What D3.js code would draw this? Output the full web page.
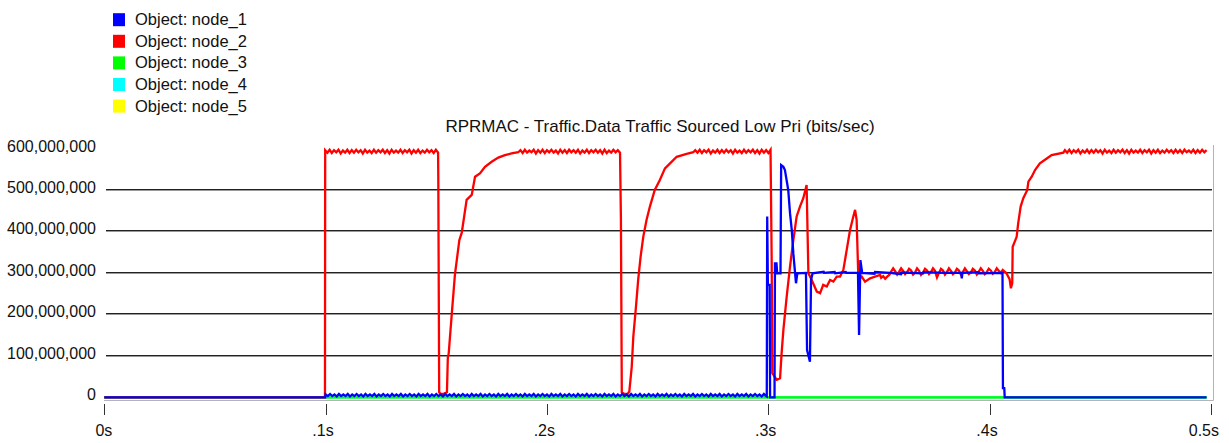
<!DOCTYPE html>
<html lang="en">
<head>
<meta charset="UTF-8">
<script src="https://d3js.org/d3.v7.min.js"></script>
<title>RPRMAC - Traffic.Data Traffic Sourced Low Pri</title>
<style>
  body { margin: 0; background: #fff; }
  svg { display: block; font-family: "Liberation Sans", Arial, sans-serif; }
</style>
</head>
<body>
<div id="chart"></div>
<script>
// ---- data (rates in Mbit/s, time in seconds) ----
const seriesNames = ["Object: node_1", "Object: node_2", "Object: node_3", "Object: node_4", "Object: node_5"];
const seriesColors = ["#0000ff", "#ff0000", "#00ff00", "#00ffff", "#ffff00"];
const yTicks = [0, 100, 200, 300, 400, 500, 600];
const xTicks = [0, 0.1, 0.2, 0.3, 0.4, 0.5];
const xTickLabels = ["0s", ".1s", ".2s", ".3s", ".4s", "0.5s"];
const title = "RPRMAC - Traffic.Data Traffic Sourced Low Pri (bits/sec)";

// sampled stretches: values every sampleStep seconds from the given start
const sampleStep = 0.001;
const rippleStep = 0.0009;

// node_2 (red)
const node2Start = [[0, 0], [0.0997, 0]];
const node2TopA = [596,590,597,589,596,591,597,588,595,590,
                   597,589,596,590,597,591,596,588,597,590,
                   595,589,597,590,596,591,597,589,596,588,
                   597,590,595,590,597,589,596,591,597,588,
                   596,590,597,589,595,590,597,591,596,589,
                   597,590];
const node2DropA = [[0.1509,528],[0.1513,12],[0.1520,8],[0.1535,9],[0.1548,12],[0.1552,95],
                    [0.1556,106],[0.1570,202],[0.1584,295],[0.1604,379],[0.1615,397],[0.1637,476],
                    [0.1660,488],[0.1675,532],[0.1697,540],[0.1720,556],[0.1750,568],[0.1780,578],
                    [0.1810,584],[0.1840,588],[0.1870,591]];
const node2TopB = [596,589,597,590,595,591,597,588,596,590,
                   597,589,596,591,597,590,595,588,597,590,
                   596,589,597,591,596,590,597,588,595,590,
                   597,589,596,591,597,590,596,588,597,589,
                   595,590,597,591,596,590];
const node2DropB = [[0.2334,432],[0.2338,12],[0.2350,8],[0.2365,9],[0.2372,14],[0.2383,74],
                    [0.2390,146],[0.2402,218],[0.2412,283],[0.2423,339],[0.2435,387],[0.2450,428],
                    [0.2465,460],[0.2487,500],[0.2510,524],[0.2533,552],[0.2556,564],[0.2586,580],
                    [0.2631,587],[0.2661,591]];
const node2TopC = [596,590,597,589,596,591,597,588,595,590,
                   597,589,596,590,597,591,596,588,597,590,
                   595,589,597,590,596,591,597,589,596,588,
                   597,590,596,589,597];
const node2DropC = [[0.3015,339],[0.3018,58],[0.3038,42],[0.3053,46],[0.3060,106],[0.3068,162],
                    [0.3083,243],[0.3098,315],[0.3113,379],[0.3128,436],[0.3143,460],[0.3158,480],
                    [0.3173,512],[0.3181,299],[0.3196,283],[0.3219,255],[0.3234,251],[0.3248,271],
                    [0.3264,267],[0.3279,283],[0.3294,279],[0.3309,291],[0.3324,291],[0.3339,307],
                    [0.3354,355],[0.3369,403],[0.3384,436],[0.3392,452],[0.3399,428],[0.3407,283],
                    [0.3422,291],[0.3437,279],[0.3460,287],[0.3482,291],[0.3505,295]];
const node2Ripple = [288,292,286,291,295,303,311,304,296,303,
                     311,305,297,302,310,306,296,301,311,305,
                     295,301,310,306,297,302,311,305,289,300,
                     310,306,296,302,311,305,297,301,310,306,
                     296,302,311,304,297,301,310,306,296,303,
                     311,305,297,302,310,306,298,302,311,305,
                     300,307];
const node2Rise = [[0.4075,300],[0.4090,285],[0.4096,263],[0.4102,275],[0.4104,363],[0.4122,387],
                   [0.4129,420],[0.4140,460],[0.4152,480],[0.4170,500],[0.4175,520],[0.4190,532],
                   [0.4205,548],[0.4227,564],[0.4258,576],[0.4280,584],[0.4333,590]];
const node2TopD = [596,590,597,589,596,591,597,588,595,590,
                   597,589,596,590,597,591,596,588,597,590,
                   595,589,597,590,596,591,597,589,596,588,
                   597,590,595,590,597,589,596,591,597,588,
                   596,590,597,589,595,590,597,591,596,589,
                   597,590,596,589,597,591,595,590,597,589,
                   596,590,597,591,596];

// node_1 (blue)
const node1Start = [[0, 0], [0.0998, 0]];
const node1Low = [7,3,8,3,7,2,8,3,7,3,
                  8,2,7,3,8,3,7,2,8,3,
                  7,3,8,2,7,3,8,3,7,2,
                  8,3,7,3,8,2,7,3,8,3,
                  7,2,8,3,7,3,8,2,7,3,
                  8,3,7,2,8,3,7,3,8,2,
                  7,3,8,3,7,2,8,3,7,3,
                  8,2,7,3,8,3,7,2,8,3,
                  7,3,8,2,7,3,8,3,7,2,
                  8,3,7,3,8,2,7,3,8,3,
                  7,2,8,3,7,3,8,2,7,3,
                  8,3,7,2,8,3,7,3,8,2,
                  7,3,8,3,7,2,8,3,7,3,
                  8,2,7,3,8,3,7,2,8,3,
                  7,3,8,2,7,3,8,3,7,2,
                  8,3,7,3,8,2,7,3,8,3,
                  7,2,8,3,7,3,8,2,7,3,
                  8,3,7,2,8,3,7,3,8,2,
                  7,3,8,3,7,2,8,3,7,3,
                  8,2,7,3,8,3,7,2,8,3];
const node1Burst = [[0.2993,2],[0.2995,436],[0.2998,271],[0.3006,271],[0.3008,0],[0.3028,0],
                    [0.3030,323],[0.3037,323],[0.3040,299],[0.3055,299],[0.3058,560],[0.3068,556],
                    [0.3075,548],[0.3090,500],[0.3098,444],[0.3106,403],[0.3113,347],[0.3121,299],
                    [0.3125,275],[0.3131,299],[0.3170,300],[0.3175,114],[0.3188,86],[0.3193,283],
                    [0.3200,299],[0.3250,303],[0.3252,300],[0.3300,302],[0.3302,299],[0.3350,302],
                    [0.3352,300],[0.3405,300],[0.3410,150],[0.3416,331],[0.3424,300],[0.3480,298],
                    [0.3482,302],[0.3550,300],[0.3600,297],[0.3602,301],[0.3700,299],[0.3702,302],
                    [0.3800,300],[0.3872,300],[0.3874,287],[0.3877,300],[0.3950,302],[0.3952,299],
                    [0.4058,300],[0.4060,22],[0.4066,22],[0.4068,0],[0.4980,0]];

// node_3, node_4, node_5 stay at zero
const node3 = [[0, 0], [0.4980, 0]];
const node4 = [[0, 0], [0.4980, 0]];
const node5 = [[0, 0], [0.4980, 0]];

// ---- build series ----
const sampled = (start, step, values) => values.map((v, i) => [start + i * step, v]);

const node2 = [].concat(
  node2Start, sampled(0.0998, sampleStep, node2TopA), node2DropA,
  sampled(0.1880, sampleStep, node2TopB), node2DropB,
  sampled(0.2670, sampleStep, node2TopC), node2DropC,
  sampled(0.3510, rippleStep, node2Ripple), node2Rise,
  sampled(0.4340, sampleStep, node2TopD));
const node1 = [].concat(node1Start, sampled(0.1000, sampleStep, node1Low), node1Burst);

const allSeries = [node1, node2, node3, node4, node5];

// ---- chart ----
const width = 1229, height = 443;
const svg = d3.select("#chart").append("svg")
  .attr("width", width)
  .attr("height", height);

const x = d3.scaleLinear().domain([0, 0.5]).range([104.3, 1211]);
const y = d3.scaleLinear().domain([0, 600]).range([397.3, 148.5]);

// legend
const legend = svg.append("g");
seriesNames.forEach((name, i) => {
  const cy = 19.7 + i * 21.6;
  legend.append("rect")
    .attr("x", 113).attr("y", cy - 6.5)
    .attr("width", 12).attr("height", 13)
    .attr("fill", seriesColors[i]);
  legend.append("text")
    .attr("x", 135).attr("y", cy + 5.5)
    .attr("font-size", 16.5)
    .attr("fill", "#111")
    .text(name);
});

// title
svg.append("text")
  .attr("x", 660).attr("y", 132)
  .attr("text-anchor", "middle")
  .attr("font-size", 17)
  .attr("fill", "#111")
  .text(title);

// grid lines (100M .. 500M)
const gridVals = yTicks.filter(v => v > 0 && v < 600);
svg.append("g").selectAll("line.dark")
  .data(gridVals).join("line")
  .attr("x1", 106).attr("x2", 1212)
  .attr("y1", d => Math.round(y(d)) - 0.5).attr("y2", d => Math.round(y(d)) - 0.5)
  .attr("stroke", "#222").attr("stroke-width", 1);
svg.append("g").selectAll("line.light")
  .data(gridVals).join("line")
  .attr("x1", 106).attr("x2", 1212)
  .attr("y1", d => Math.round(y(d)) + 0.5).attr("y2", d => Math.round(y(d)) + 0.5)
  .attr("stroke", "#999").attr("stroke-width", 1);

// frame: bottom and right edges
svg.append("line")
  .attr("x1", 104).attr("x2", 1213.5)
  .attr("y1", 400.5).attr("y2", 400.5)
  .attr("stroke", "#b4b4b4");
svg.append("line")
  .attr("x1", 1213.5).attr("x2", 1213.5)
  .attr("y1", 145).attr("y2", 400.5)
  .attr("stroke", "#b4b4b4");

// y labels
svg.append("g").selectAll("text")
  .data(yTicks).join("text")
  .attr("x", 96)
  .attr("y", d => y(d) + 3)
  .attr("text-anchor", "end")
  .attr("font-size", 16)
  .attr("fill", "#111")
  .text(d => d3.format(",")(d * 1e6));

// x ticks and labels
const xg = svg.append("g");
xg.selectAll("line")
  .data(xTicks).join("line")
  .attr("x1", d => Math.round(x(d)) + 0.5).attr("x2", d => Math.round(x(d)) + 0.5)
  .attr("y1", 404).attr("y2", 415)
  .attr("stroke", "#333");
xg.selectAll("text")
  .data(xTicks).join("text")
  .attr("x", d => x(d) + 8)
  .attr("y", 436)
  .attr("text-anchor", "end")
  .attr("font-size", 16)
  .attr("fill", "#111")
  .text((d, i) => xTickLabels[i]);

// series lines, node_5 first so node_1 ends on top
const line = d3.line()
  .x(d => x(d[0]))
  .y(d => y(d[1]));

const order = [4, 3, 2, 1, 0];
svg.append("g").selectAll("path")
  .data(order).join("path")
  .attr("d", i => line(allSeries[i]))
  .attr("fill", "none")
  .attr("stroke", i => seriesColors[i])
  .attr("stroke-width", 2.3)
  .attr("stroke-linejoin", "miter");
</script>
</body>
</html>
